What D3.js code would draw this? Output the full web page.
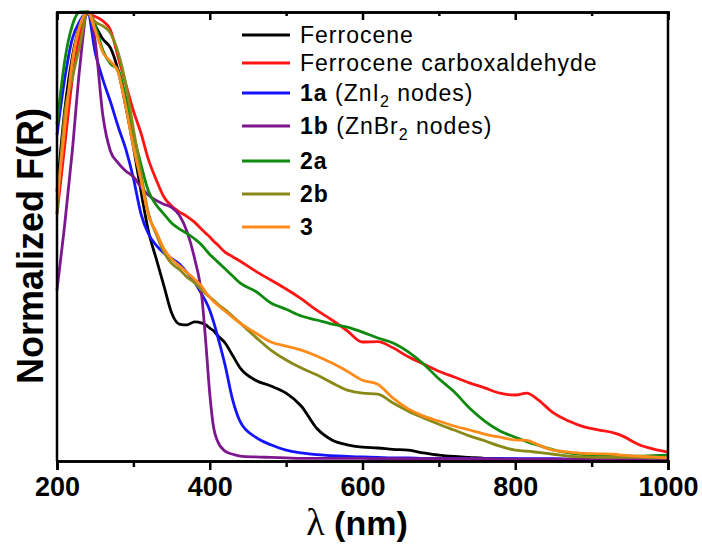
<!DOCTYPE html>
<html>
<head>
<meta charset="utf-8">
<script src="https://cdn.jsdelivr.net/npm/d3@7"></script>
<style>
  body { margin: 0; background: #fff; }
  svg { display: block; }
</style>
</head>
<body>
<div id="chart"></div>
<script>
// wavelength grid (nm) shared by every spectrum
var wavelengths = [200, 210, 220, 230, 240, 250, 260, 270, 280, 290, 300, 310, 320, 330, 340, 350, 360, 370, 380, 390, 395, 400, 405, 410, 420, 430, 440, 460, 480, 500, 520, 540, 560, 580, 600, 620, 640, 660, 680, 700, 720, 740, 760, 780, 800, 815, 830, 850, 870, 890, 910, 930, 940, 960, 980, 1000];

var ferrocene = [0.60, 0.78, 0.90, 0.97, 1.00, 0.97, 0.94, 0.92, 0.87, 0.79, 0.70, 0.60, 0.51, 0.45, 0.39, 0.33, 0.305, 0.303, 0.31, 0.307, 0.303, 0.296, 0.29, 0.28, 0.263, 0.235, 0.207, 0.18, 0.167, 0.151, 0.122, 0.073, 0.047, 0.036, 0.031, 0.029, 0.026, 0.024, 0.018, 0.013, 0.010, 0.008, 0.006, 0.005, 0.004, 0.003, 0.003, 0.003, 0.002, 0.002, 0.002, 0.002, 0.002, 0.002, 0.002, 0.002];
var ferroceneAldehyde = [0.55, 0.70, 0.85, 0.95, 0.995, 0.99, 0.98, 0.96, 0.90, 0.84, 0.78, 0.73, 0.67, 0.626, 0.588, 0.568, 0.555, 0.545, 0.532, 0.515, 0.507, 0.499, 0.49, 0.482, 0.465, 0.455, 0.445, 0.423, 0.403, 0.383, 0.361, 0.336, 0.314, 0.29, 0.265, 0.266, 0.252, 0.232, 0.216, 0.200, 0.187, 0.174, 0.163, 0.151, 0.147, 0.151, 0.136, 0.107, 0.089, 0.076, 0.069, 0.062, 0.056, 0.038, 0.027, 0.02];
var mof1a = [0.726, 0.85, 0.94, 0.98, 1.00, 0.91, 0.85, 0.80, 0.745, 0.695, 0.63, 0.55, 0.505, 0.48, 0.463, 0.451, 0.439, 0.42, 0.399, 0.37, 0.355, 0.336, 0.31, 0.28, 0.214, 0.136, 0.087, 0.053, 0.036, 0.024, 0.018, 0.014, 0.012, 0.010, 0.009, 0.008, 0.007, 0.007, 0.006, 0.006, 0.006, 0.006, 0.005, 0.005, 0.005, 0.005, 0.005, 0.005, 0.004, 0.004, 0.004, 0.004, 0.004, 0.004, 0.004, 0.004];
var mof1b = [0.38, 0.525, 0.69, 0.88, 1.00, 0.935, 0.77, 0.69, 0.664, 0.646, 0.633, 0.61, 0.592, 0.58, 0.572, 0.565, 0.548, 0.512, 0.452, 0.36, 0.26, 0.15, 0.075, 0.045, 0.022, 0.015, 0.011, 0.009, 0.008, 0.007, 0.006, 0.006, 0.006, 0.006, 0.006, 0.005, 0.005, 0.005, 0.005, 0.005, 0.005, 0.005, 0.005, 0.004, 0.004, 0.004, 0.004, 0.004, 0.004, 0.004, 0.004, 0.004, 0.004, 0.004, 0.004, 0.004];
var mof2a = [0.75, 0.89, 0.97, 1.00, 1.00, 0.97, 0.915, 0.885, 0.872, 0.81, 0.73, 0.66, 0.60, 0.57, 0.55, 0.53, 0.517, 0.507, 0.495, 0.48, 0.47, 0.46, 0.452, 0.444, 0.428, 0.412, 0.396, 0.378, 0.352, 0.338, 0.323, 0.314, 0.305, 0.298, 0.287, 0.274, 0.263, 0.243, 0.216, 0.183, 0.154, 0.118, 0.089, 0.067, 0.053, 0.043, 0.035, 0.025, 0.018, 0.014, 0.012, 0.011, 0.011, 0.011, 0.012, 0.013];
var mof2b = [0.55, 0.77, 0.853, 0.926, 1.00, 0.978, 0.969, 0.953, 0.91, 0.84, 0.74, 0.64, 0.55, 0.505, 0.465, 0.44, 0.427, 0.41, 0.397, 0.38, 0.372, 0.365, 0.358, 0.35, 0.337, 0.322, 0.307, 0.276, 0.247, 0.225, 0.207, 0.192, 0.174, 0.158, 0.151, 0.149, 0.129, 0.111, 0.096, 0.082, 0.069, 0.056, 0.045, 0.033, 0.024, 0.022, 0.019, 0.015, 0.011, 0.009, 0.008, 0.008, 0.008, 0.008, 0.007, 0.007];
var mof3 = [0.58, 0.74, 0.89, 0.97, 1.00, 0.96, 0.91, 0.89, 0.866, 0.79, 0.70, 0.625, 0.545, 0.51, 0.473, 0.45, 0.435, 0.42, 0.405, 0.388, 0.375, 0.365, 0.355, 0.348, 0.334, 0.32, 0.307, 0.285, 0.265, 0.256, 0.247, 0.234, 0.218, 0.200, 0.18, 0.171, 0.14, 0.116, 0.10, 0.089, 0.078, 0.069, 0.06, 0.053, 0.047, 0.046, 0.036, 0.024, 0.02, 0.017, 0.016, 0.015, 0.013, 0.011, 0.009, 0.007];

var seriesNames = ["Ferrocene", "Ferrocene carboxaldehyde", "1a", "1b", "2a", "2b", "3"];
var seriesValues = [ferrocene, ferroceneAldehyde, mof1a, mof1b, mof2a, mof2b, mof3];
var seriesColors = ["#000000", "#ff1414", "#1414ff", "#7d178f", "#0f8a0f", "#898917", "#ff8c1a"];

var xTicks = [200, 400, 600, 800, 1000];
var xMinorTicks = [300, 500, 700, 900];

var svgWidth = 702;
var svgHeight = 544;
var margin = { top: 12, right: 34, bottom: 83, left: 57 };
var width = svgWidth - margin.left - margin.right;
var height = svgHeight - margin.top - margin.bottom;

var svg = d3.select("#chart")
  .append("svg")
  .attr("width", svgWidth)
  .attr("height", svgHeight);

var chartGroup = svg.append("g")
  .attr("transform", `translate(${margin.left}, ${margin.top})`);

var xScale = d3.scaleLinear()
  .domain([200, 1000])
  .range([0, width]);

var yScale = d3.scaleLinear()
  .domain([0, 1])
  .range([height, 0]);

var line = d3.line()
  .x(d => xScale(d[0]))
  .y(d => yScale(d[1]))
  .curve(d3.curveMonotoneX);

seriesValues.forEach(function(vals, i) {
  chartGroup.append("path")
    .datum(wavelengths.map((w, j) => [w, vals[j]]))
    .attr("fill", "none")
    .attr("stroke", seriesColors[i])
    .attr("stroke-width", 2.8)
    .attr("stroke-linejoin", "round")
    .attr("d", line);
});

// frame: left and right sides have no ticks
chartGroup.append("line")
  .attr("x1", 0).attr("x2", 0).attr("y1", 0).attr("y2", height)
  .attr("stroke", "#000").attr("stroke-width", 2.5);
chartGroup.append("line")
  .attr("x1", width).attr("x2", width).attr("y1", 0).attr("y2", height)
  .attr("stroke", "#000").attr("stroke-width", 2.5);

var bottomAxis = d3.axisBottom(xScale)
  .tickValues(xTicks)
  .tickSize(9)
  .tickPadding(7)
  .tickFormat(d3.format("d"));

var bottomMinor = d3.axisBottom(xScale)
  .tickValues(xMinorTicks)
  .tickSize(6)
  .tickFormat("");

var topAxis = d3.axisTop(xScale)
  .tickValues(xTicks)
  .tickSize(-8)
  .tickFormat("");

var topMinor = d3.axisTop(xScale)
  .tickValues(xMinorTicks)
  .tickSize(-4)
  .tickFormat("");

var gBottom = chartGroup.append("g")
  .attr("transform", `translate(0, ${height})`)
  .call(bottomAxis);
chartGroup.append("g")
  .attr("transform", `translate(0, ${height})`)
  .call(bottomMinor);
chartGroup.append("g").call(topAxis);
chartGroup.append("g").call(topMinor);

chartGroup.selectAll(".domain")
  .attr("stroke", "#000")
  .attr("stroke-width", 2.5);
chartGroup.selectAll(".tick line")
  .attr("stroke", "#000")
  .attr("stroke-width", 2.5);

gBottom.selectAll("text")
  .attr("font-family", "Liberation Sans, Arial, sans-serif")
  .attr("font-weight", "bold")
  .attr("font-size", "27px")
  .attr("fill", "#000");

// axis titles
svg.append("text")
  .attr("transform", "translate(43, 246) rotate(-90)")
  .attr("text-anchor", "middle")
  .attr("font-family", "Liberation Sans, Arial, sans-serif")
  .attr("font-weight", "bold")
  .attr("font-size", "36px")
  .text("Normalized F(R)");

var xLabel = svg.append("text")
  .attr("x", 357)
  .attr("y", 535)
  .attr("text-anchor", "middle")
  .attr("font-family", "Liberation Sans, Arial, sans-serif")
  .attr("font-weight", "bold")
  .attr("font-size", "34px");
xLabel.append("tspan")
  .attr("font-family", "Liberation Serif, Times New Roman, serif")
  .attr("font-weight", "normal")
  .attr("font-size", "38px")
  .text("λ");
xLabel.append("tspan").text(" (nm)");

// legend
var legendRows = [35, 63, 93, 126, 161, 194, 227];
var legend = svg.append("g")
  .attr("font-family", "Liberation Sans, Arial, sans-serif")
  .attr("font-size", "23px")
  .attr("letter-spacing", "1px");

seriesNames.forEach(function(name, i) {
  var y = legendRows[i];
  legend.append("line")
    .attr("x1", 242).attr("x2", 290)
    .attr("y1", y).attr("y2", y)
    .attr("stroke", seriesColors[i])
    .attr("stroke-width", 3);

  var t = legend.append("text")
    .attr("x", 300)
    .attr("y", y + 8);

  if (name == "1a" || name == "1b") {
    t.append("tspan").attr("font-weight", "bold").text(name);
    t.append("tspan").text(name == "1a" ? " (ZnI" : " (ZnBr");
    t.append("tspan").attr("font-size", "16px").attr("dy", 6).text("2");
    t.append("tspan").attr("dy", -6).text(" nodes)");
  } else if (name == "2a" || name == "2b" || name == "3") {
    t.append("tspan").attr("font-weight", "bold").text(name);
  } else {
    t.text(name);
  }
});
</script>
</body>
</html>
